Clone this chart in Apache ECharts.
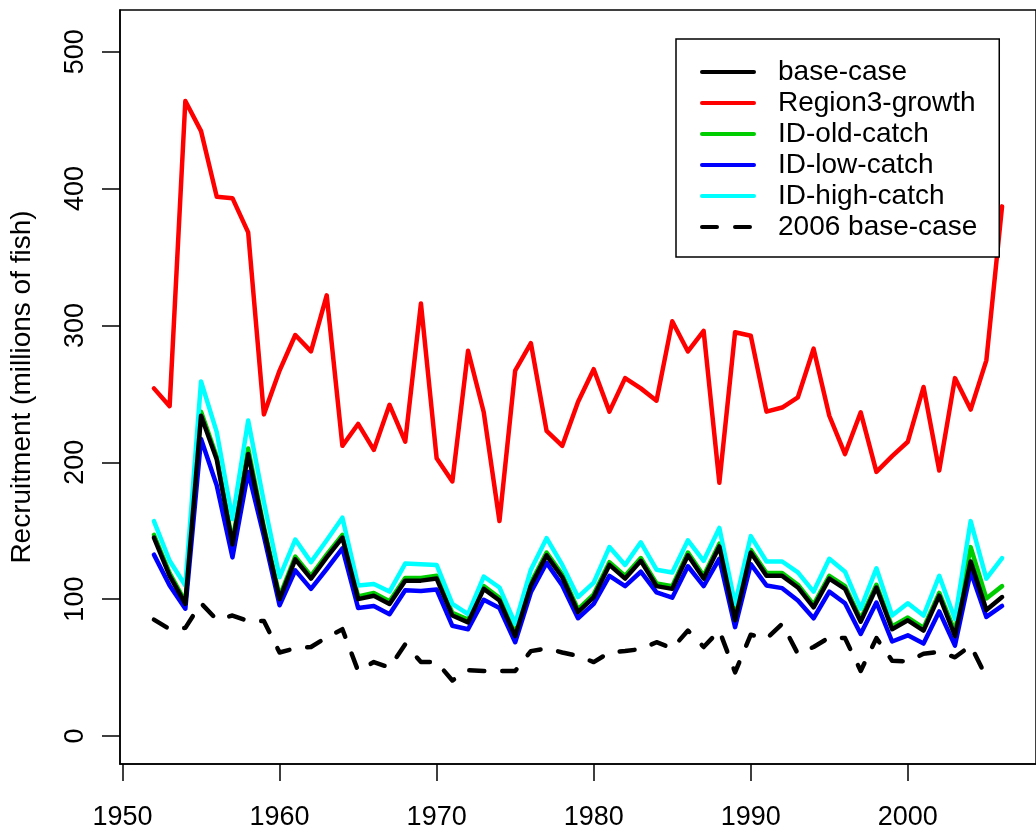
<!DOCTYPE html>
<html>
<head>
    <meta charset="UTF-8"/>
    <script type="text/javascript" src="https://cdn.jsdelivr.net/npm/echarts@6/dist/echarts.min.js"></script>
    <title>Recruitment</title>
    <style>
        html, body { margin: 0; padding: 0; background: #fff; }
        #chart { width: 1036px; height: 831px; }
    </style>
</head>
<body>
<div id="chart"></div>

<script type="application/javascript">
    // years of the recruitment series
    var years = [1952, 1953, 1954, 1955, 1956, 1957, 1958, 1959, 1960, 1961,
                 1962, 1963, 1964, 1965, 1966, 1967, 1968, 1969, 1970, 1971,
                 1972, 1973, 1974, 1975, 1976, 1977, 1978, 1979, 1980, 1981,
                 1982, 1983, 1984, 1985, 1986, 1987, 1988, 1989, 1990, 1991,
                 1992, 1993, 1994, 1995, 1996, 1997, 1998, 1999, 2000, 2001,
                 2002, 2003, 2004, 2005, 2006];

    var baseCase = [145, 117, 96.5, 234, 202, 140, 206, 151, 100, 129,
                    115, 130.5, 145, 100, 102.5, 96.5, 113.5, 113.5, 115, 88,
                    83, 107.5, 99, 73, 110, 132, 116, 90.5, 101.5, 125,
                    115, 128, 109.5, 107.5, 132, 115, 138.5, 84.5, 134, 117,
                    117, 108.5, 94, 115, 107.5, 83.5, 108.5, 78, 84.5, 77,
                    102.5, 73, 127.5, 92, 101.5];

    var region3Growth = [254, 241, 464, 442, 394, 393, 368, 235, 267, 293,
                         281, 322, 212, 228, 209, 242, 215, 316, 203, 186,
                         281.5, 236.5, 157, 267, 287, 223, 212, 244, 268, 237,
                         261.5, 254, 245, 303, 281, 296, 185, 295, 292.5, 237,
                         240, 247.5, 283, 234, 206, 236.5, 193, 204.5, 215, 255,
                         194, 261.5, 238.5, 274.5, 387];

    var idOldCatch = [147, 119, 98, 237, 204, 142, 210, 153, 102, 131,
                      117, 132.5, 147, 102, 104.5, 98.5, 115.5, 115.5, 117, 90,
                      85, 109.5, 101, 75, 112, 134, 118, 92.5, 103.5, 127,
                      117, 130, 111.5, 109.5, 134, 117, 140.5, 86.5, 136, 119,
                      119, 110.5, 96, 117, 109.5, 85.5, 110.5, 80, 86.5, 79,
                      104.5, 76, 138, 100.5, 109.5];

    var idLowCatch = [132.5, 110, 93, 217, 183, 130.5, 193, 146, 95.5, 121,
                      107.5, 122, 137, 93.5, 95, 89, 106.5, 106, 107, 80.5,
                      78, 99.5, 93.5, 68.5, 105, 126.5, 110, 86, 96.5, 117,
                      109.5, 120, 105, 101, 124, 109.5, 129.5, 79.5, 125.5, 110,
                      108, 99, 86, 105.5, 97, 74.5, 97.5, 69, 73.5, 67.5,
                      91, 66, 120, 87, 95];

    var idHighCatch = [157, 128, 110, 259, 222, 158.5, 230.5, 171, 116, 143.5,
                       127, 143, 159.5, 110, 111, 105.5, 126, 125.5, 125, 96.5,
                       89, 116.5, 108.5, 82, 121.5, 144.5, 125, 101.5, 112, 138,
                       125, 141.5, 121.5, 119.5, 143, 128, 152, 96.5, 146, 127.5,
                       127.5, 119.5, 105.5, 129.5, 120, 93, 122.5, 88, 97, 88,
                       117, 85.5, 157, 115, 130];

    // 2006 assessment, ends in 2005
    var baseCase2006 = [85, 78, 79, 97, 85, 88, 84, 84, 61, 64,
                        65, 72, 78, 47.5, 54, 50, 67, 54, 54, 40.5,
                        48, 47.5, 47.5, 47.5, 62, 64, 61, 58.5, 54, 61,
                        62, 63.5, 68.5, 64, 77, 65, 77, 46.5, 74, 71,
                        82, 60, 65, 72, 71.5, 47.5, 71.5, 55, 54.5, 60,
                        61.5, 57.5, 66, 43, null];

    var xTicks = [1950, 1960, 1970, 1980, 1990, 2000];
    var yTicks = [0, 100, 200, 300, 400, 500];
    var legendNames = ['base-case', 'Region3-growth', 'ID-old-catch', 'ID-low-catch', 'ID-high-catch', '2006 base-case'];

    function pairs(values) {
        var out = [];
        for (var i = 0; i < years.length; i++) {
            out.push([years[i], values[i]]);
        }
        return out;
    }

    function lineSeries(name, values, color, dashed) {
        return {
            name: name,
            type: 'line',
            data: pairs(values),
            symbol: 'none',
            connectNulls: false,
            lineStyle: {
                color: color,
                width: 4.5,
                type: dashed ? [15, 18] : 'solid',
                cap: 'round',
                join: 'round'
            },
            itemStyle: {color: color}
        };
    }

    var myChart = echarts.init(document.getElementById('chart'));
    var option = {
        animation: false,
        backgroundColor: '#fff',
        textStyle: {fontFamily: 'Liberation Sans, Arial, sans-serif', color: '#000'},
        grid: {
            left: 119, top: 10, right: -3, bottom: 66,
            show: true, borderColor: '#000', borderWidth: 1.5
        },
        legend: {
            data: legendNames,
            orient: 'vertical',
            left: 676,
            top: 39,
            padding: [19, 22, 16, 24],
            itemGap: 3,
            itemWidth: 52,
            itemHeight: 14,
            borderColor: '#000',
            borderWidth: 1.5,
            backgroundColor: '#fff',
            itemStyle: {color: 'rgba(0,0,0,0)', borderWidth: 0, opacity: 0},
            lineStyle: {width: 4, cap: 'round'},
            textStyle: {
                fontSize: 28,
                lineHeight: 28,
                color: '#000',
                padding: [0, 0, 0, 19],
                fontFamily: 'Liberation Sans, Arial, sans-serif'
            }
        },
        xAxis: {
            type: 'value',
            min: 1949.84,
            max: 2008.16,
            splitLine: {show: false},
            axisLine: {show: true, onZero: false, lineStyle: {color: '#000', width: 1.5}},
            axisTick: {show: true, length: 17, customValues: xTicks, lineStyle: {color: '#000', width: 1.5}},
            axisLabel: {
                customValues: xTicks,
                formatter: function (v) { return String(v); },
                margin: 40,
                fontSize: 27,
                color: '#000',
                fontFamily: 'Liberation Sans, Arial, sans-serif'
            }
        },
        yAxis: {
            type: 'value',
            min: -20.5,
            max: 530.5,
            name: 'Recruitment (millions of fish)',
            nameLocation: 'middle',
            nameRotate: 90,
            nameGap: 84,
            nameTextStyle: {fontSize: 28, color: '#000', fontFamily: 'Liberation Sans, Arial, sans-serif'},
            splitLine: {show: false},
            axisLine: {show: true, onZero: false, lineStyle: {color: '#000', width: 1.5}},
            axisTick: {show: true, length: 18, customValues: yTicks, lineStyle: {color: '#000', width: 1.5}},
            axisLabel: {
                customValues: yTicks,
                formatter: function (v) { return String(v); },
                rotate: 90,
                margin: 31,
                fontSize: 27,
                color: '#000',
                fontFamily: 'Liberation Sans, Arial, sans-serif'
            }
        },
        series: [
            lineSeries('Region3-growth', region3Growth, '#ff0000', false),
            lineSeries('ID-old-catch', idOldCatch, '#00cd00', false),
            lineSeries('ID-low-catch', idLowCatch, '#0000ff', false),
            lineSeries('ID-high-catch', idHighCatch, '#00ffff', false),
            lineSeries('2006 base-case', baseCase2006, '#000000', true),
            lineSeries('base-case', baseCase, '#000000', false)
        ]
    };
    myChart.setOption(option);
</script>
</body>
</html>
